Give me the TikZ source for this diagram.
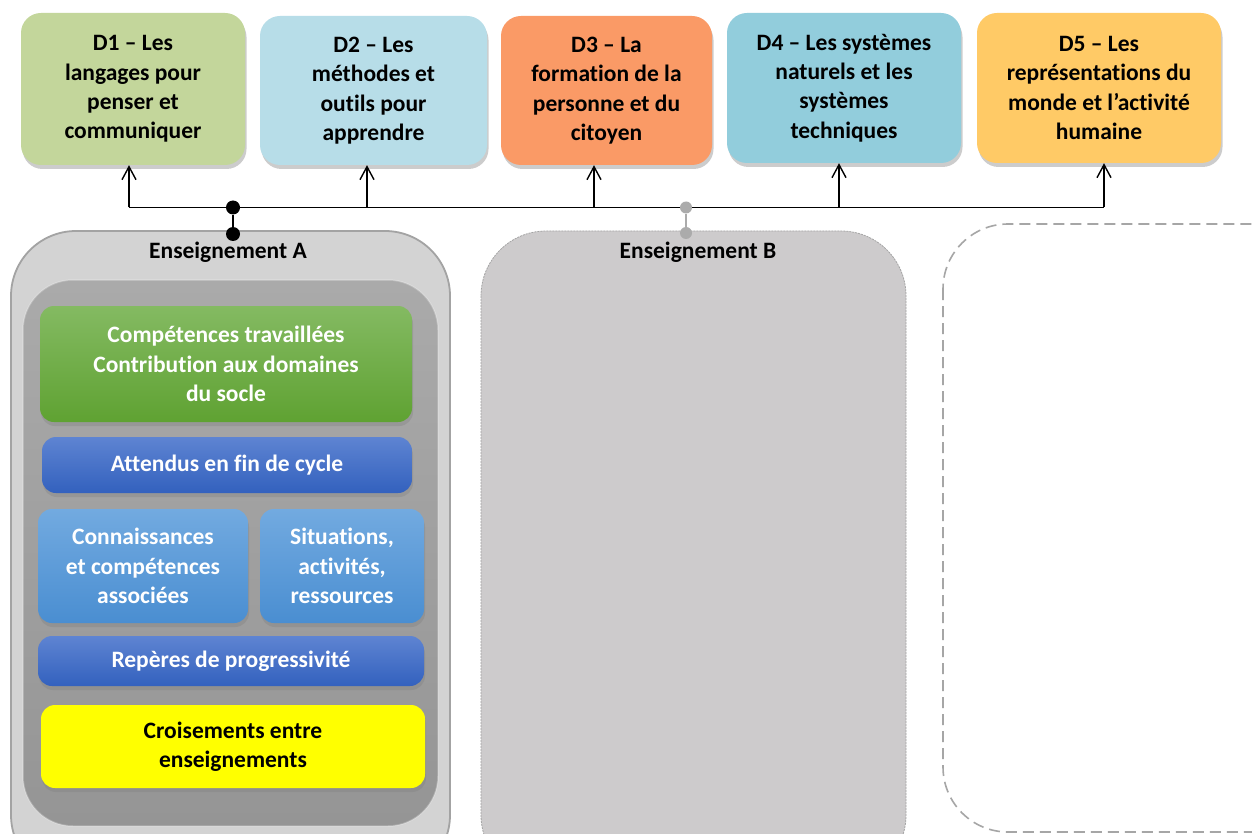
\documentclass[tikz,border=0pt]{standalone}
\usepackage{fontspec}
\setmainfont{Carlito}[RawFeature=-liga]
\usetikzlibrary{arrows.meta,shadows}
\definecolor{dA}{HTML}{C3D69B}
\definecolor{dB}{HTML}{B7DDE8}
\definecolor{dC}{HTML}{FA9A66}
\definecolor{dD}{HTML}{92CDDC}
\definecolor{dE}{HTML}{FFCA66}
\definecolor{grTop}{HTML}{84BA62}
\definecolor{grBot}{HTML}{5FA232}
\definecolor{bdTop}{HTML}{5E84D2}
\definecolor{bdBot}{HTML}{3361BE}
\definecolor{blTop}{HTML}{72AAE0}
\definecolor{blBot}{HTML}{4A8ED1}
\definecolor{ensfill}{HTML}{D3D3D3}
\definecolor{ensrim}{HTML}{A3A3A3}
\definecolor{innTop}{HTML}{AAAAAA}
\definecolor{innBot}{HTML}{959595}
\definecolor{bfill}{HTML}{CDCBCC}
\definecolor{dashgray}{HTML}{A6A6A6}
\definecolor{dotgray}{HTML}{ABABAB}
\definecolor{pureyellow}{HTML}{FFFF00}
\tikzset{
  txt/.style={font=\fontsize{23.5}{29.3}\selectfont\bfseries, align=center},
  dombox/.style={txt, rounded corners=20, inner sep=0pt,
    drop shadow={opacity=0.4, shadow xshift=1.5pt, shadow yshift=-4pt}},
  innbox/.style={txt, text=white, rounded corners=14, inner sep=0pt,
    drop shadow={opacity=0.35, shadow xshift=1pt, shadow yshift=-4pt}},
  arr/.style={line width=1.4pt, -{Straight Barb[length=13pt,width=14pt,line width=1.4pt]}},
  bus/.style={line width=1.8pt},
  bdot/.style={circle, fill=black, inner sep=0pt, minimum size=14pt},
  gdot/.style={circle, fill=dotgray, inner sep=0pt, minimum size=12pt},
}
\begin{document}
\begin{tikzpicture}[x=1pt,y=-1pt]
\clip (0,0) rectangle (1252,834);
\fill[white] (0,0) rectangle (1252,834);

% domain boxes
\node[dombox, fill=dA, minimum width=224pt, minimum height=152pt] (D1) at (133,89)
  {D1 -- Les\\langages pour\\penser et\\communiquer};
\node[dombox, fill=dB, minimum width=227pt, minimum height=149pt] (D2) at (373.5,90.5)
  {D2 -- Les\\méthodes et\\outils pour\\apprendre};
\node[dombox, fill=dC, minimum width=211pt, minimum height=149pt] (D3) at (606.5,90.5)
  {D3 -- La\\formation de la\\personne et du\\citoyen};
\node[dombox, fill=dD, minimum width=234pt, minimum height=150pt] (D4) at (844,88)
  {D4 -- Les systèmes\\naturels et les\\systèmes\\techniques};
\node[dombox, fill=dE, minimum width=244pt, minimum height=150pt] (D5) at (1099,88)
  {D5 -- Les\\représentations du\\monde et l’activité\\humaine};

% bus coordinates
\coordinate (b1) at (129,207.5);
\coordinate (b2) at (367,207.5);
\coordinate (b3) at (594,207.5);
\coordinate (b4) at (839,207.5);
\coordinate (b5) at (1104,207.5);
\draw[bus] (b1) -- (b5);
\draw[arr] (b1) -- (b1 |- D1.south);
\draw[arr] (b2) -- (b2 |- D2.south);
\draw[arr] (b3) -- (b3 |- D3.south);
\draw[arr] (b4) -- (b4 |- D4.south);
\draw[arr] (b5) -- (b5 |- D5.south);

% Enseignement A
\draw[fill=ensfill, draw=ensrim, line width=1.8pt, rounded corners=65] (11,231) rectangle (450,880);
\node[draw=none, rounded corners=50, top color=innTop, bottom color=innBot,
  minimum width=415pt, minimum height=546pt, inner sep=0pt] (innerA) at (230.5,553) {};
\draw[white, opacity=0.25, line width=1.5pt, rounded corners=50] (23,280) rectangle (438,826);
\node[txt] (labA) at (228,252) {Enseignement A};

\node[innbox, top color=grTop, bottom color=grBot, minimum width=372pt, minimum height=116pt] (comp) at (226,364)
  {Compétences travaillées\\Contribution aux domaines\\du socle};
\node[innbox, top color=bdTop, bottom color=bdBot, minimum width=370pt, minimum height=56pt] (att) at (227,465)
  {Attendus en fin de cycle};
\node[innbox, top color=blTop, bottom color=blBot, minimum width=210pt, minimum height=114pt] (conn) at (143,566)
  {Connaissances\\et compétences\\associées};
\node[innbox, top color=blTop, bottom color=blBot, minimum width=164pt, minimum height=114pt] (sit) at (342,566)
  {Situations,\\activités,\\ressources};
\node[innbox, top color=bdTop, bottom color=bdBot, minimum width=386pt, minimum height=50pt] (rep) at (231,661)
  {Repères de progressivité};
\node[innbox, text=black, fill=pureyellow, minimum width=384pt, minimum height=83pt] (crois) at (233,746.5)
  {Croisements entre\\enseignements};

% Enseignement B
\draw[fill=bfill, draw=ensrim, line width=0.8pt, dash pattern=on 2pt off 1pt, rounded corners=65] (481,231) rectangle (906,880);
\node[txt] (labB) at (698,252) {Enseignement B};

% third placeholder
\draw[draw=dashgray, line width=1.6pt, dash pattern=on 11pt off 6pt, rounded corners=65] (943,224) rectangle (1320,832);

% connectors to bus
\node[bdot] (dA1) at (233,207.5) {};
\node[bdot] (dA2) at (233,234) {};
\draw[line width=2pt] (dA1) -- (dA2);
\node[gdot] (dB1) at (686,207.5) {};
\node[gdot] (dB2) at (686,233) {};
\draw[dotgray, line width=2pt] (dB1) -- (dB2);
\end{tikzpicture}
\end{document}
